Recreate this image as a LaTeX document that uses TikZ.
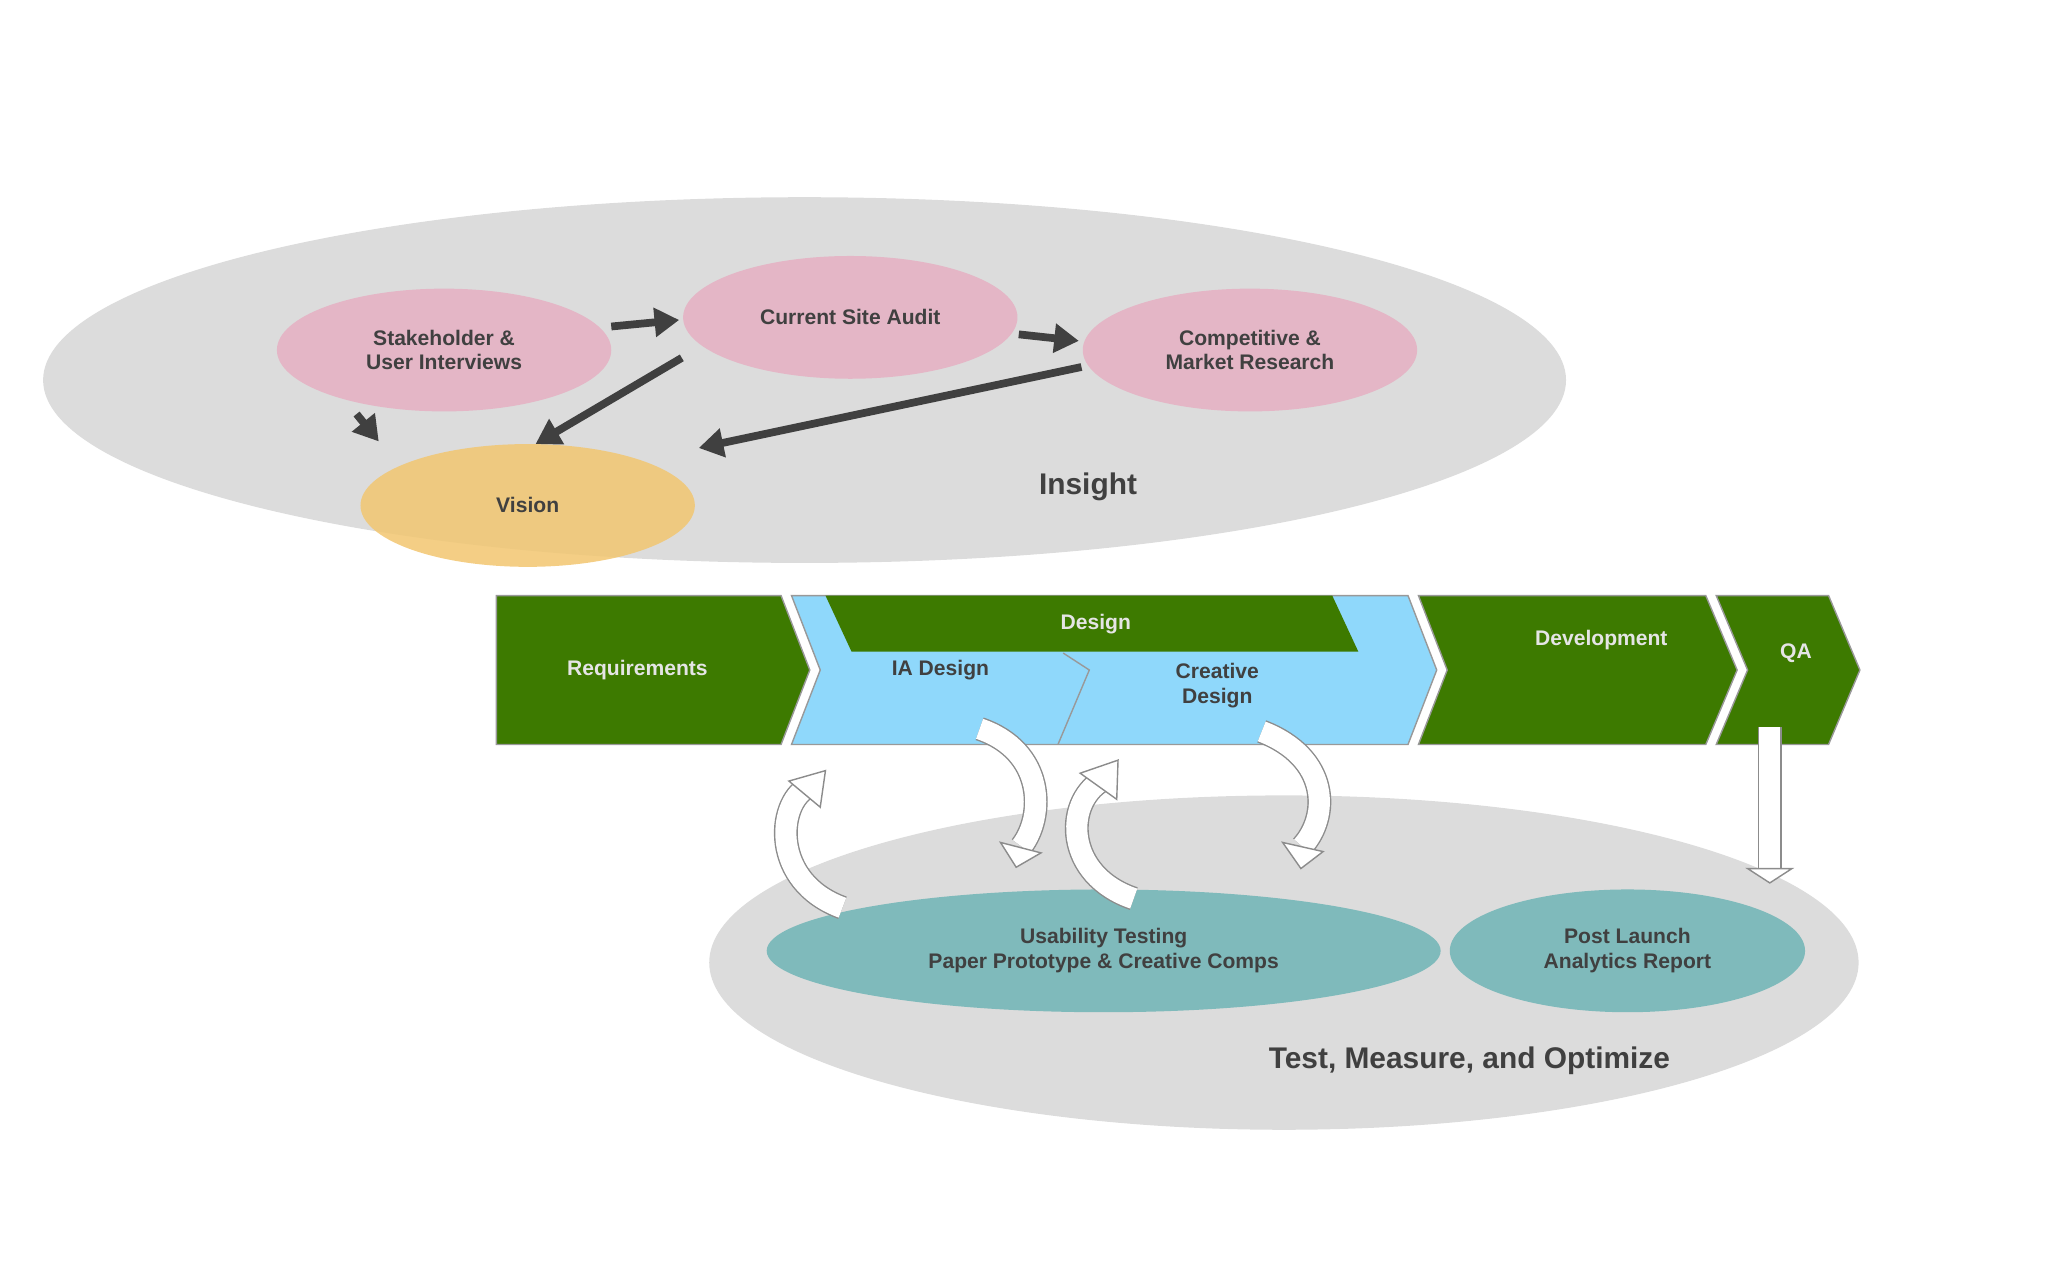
\documentclass[tikz,border=0pt]{standalone}
\usepackage{fontspec}
\setmainfont{Liberation Sans}
\usetikzlibrary{arrows.meta}
\definecolor{bggray}{HTML}{DCDCDC}
\definecolor{pinkfill}{HTML}{E4B6C6}
\definecolor{visionfill}{HTML}{F2C670}
\definecolor{stepgreen}{HTML}{3D7A00}
\definecolor{designblue}{HTML}{8FD8FB}
\definecolor{tealfill}{HTML}{7FBABB}
\definecolor{inkgray}{HTML}{404040}
\tikzset{
  phase/.style = {fill=bggray, draw=none},
  activity/.style = {ellipse-like, fill=pinkfill, align=center, text=inkgray, font=\fontsize{6}{7}\bfseries},
  lbl/.style = {align=center, text=inkgray, font=\fontsize{6}{7}\bfseries},
  steplbl/.style = {align=center, text=black!10, font=\fontsize{6}{7}\bfseries},
  biglbl/.style = {text=inkgray, font=\fontsize{8.5}{10}\bfseries},
  flow/.style = {line width=2.2pt, inkgray, -{Triangle[length=7pt,width=8pt]}},
  chevron/.style = {fill=stepgreen, draw=black!40, line width=0.4pt},
  loop/.style = {draw=black!45, double=white, double distance=6pt, line width=0.4pt},
  loophead/.style = {fill=white, draw=black!45, line width=0.4pt},
}
\newcommand{\loophead}[3]{% tip, direction angle
  \filldraw[loophead] (#1) ++(#2:0) -- ++(#2+150:#3) -- ++(#2-90:{#3*1.0}) -- cycle;}
\begin{document}
\begin{tikzpicture}[x=0.01306cm, y=-0.01306cm]
\useasboundingbox (0,0) rectangle (1568,980);

% insight phase
\fill[phase] (616,291) ellipse (583 and 140);
\fill[pinkfill] (340,268) ellipse (128 and 47);
\fill[pinkfill] (651,243) ellipse (128 and 47);
\fill[pinkfill] (957,268) ellipse (128 and 47);
\fill[visionfill, opacity=0.85] (404,387) ellipse (128 and 47);
\node (stake) [lbl] at (340,268) {Stakeholder \&\\User Interviews};
\node (audit) [lbl] at (651,243) {Current Site Audit};
\node (market) [lbl] at (957,268) {Competitive \&\\Market Research};
\node (vision) [lbl] at (404,387) {Vision};
\node (insight) [biglbl] at (833,373) {Insight};

\coordinate (stakeE) at (468,250);
\coordinate (auditW) at (520,245);
\coordinate (auditE) at (780,256);
\coordinate (marketW) at (826,261);
\coordinate (auditSW) at (522,274);
\coordinate (visionN) at (410,340);
\coordinate (marketSW) at (828,281);
\coordinate (visionE) at (535,343);
\coordinate (stakeS) at (273,317);
\coordinate (visionNW) at (290,338);
\draw [flow] (stakeE) -- (auditW);
\draw [flow] (auditE) -- (marketW);
\draw [flow] (auditSW) -- (visionN);
\draw [flow] (marketSW) -- (visionE);
\draw [flow] (stakeS) -- (visionNW);

% process steps
\draw[chevron] (380,456) -- (598,456) -- (620,513) -- (598,570) -- (380,570) -- cycle;
\draw[chevron, fill=designblue] (606,456) -- (1078,456) -- (1100,513) -- (1078,570) -- (606,570) -- (628,513) -- cycle;
\fill[stepgreen] (632,456) -- (1020,456) -- (1040,499) -- (652,499) -- cycle;
\draw[black!40] (814,500) -- (834,513) -- (810,570);
\draw[chevron] (1086,456) -- (1306,456) -- (1330,513) -- (1306,570) -- (1086,570) -- (1108,513) -- cycle;
\draw[chevron] (1314,456) -- (1400,456) -- (1424,513) -- (1400,570) -- (1314,570) -- (1338,513) -- cycle;
\node (req) [steplbl] at (488,513) {Requirements};
\node (design) [steplbl] at (839,478) {Design};
\node (ia) [lbl] at (720,513) {IA Design};
\node (creative) [lbl] at (932,525) {Creative\\Design};
\node (dev) [steplbl] at (1226,490) {Development};
\node (qa) [steplbl] at (1375,500) {QA};

% test phase
\fill[phase] (983,737) ellipse (440 and 128);
\fill[tealfill] (845,728) ellipse (258 and 47);
\fill[tealfill] (1246,728) ellipse (136 and 47);
\node (usability) [lbl] at (845,728) {Usability Testing\\Paper Prototype \& Creative Comps};
\node (post) [lbl] at (1246,728) {Post Launch\\Analytics Report};
\node (test) [biglbl] at (1125,812) {Test, Measure, and Optimize};

% feedback loops
\draw[loop] (645,695) .. controls (590,675) and (595,615) .. (618,603);
\filldraw[loophead] (604,598) -- (632,590) -- (628,618) -- cycle;
\draw[loop] (750,558) .. controls (800,575) and (800,625) .. (782,648);
\filldraw[loophead] (766,645) -- (797,653) -- (778,664) -- cycle;
\draw[loop] (868,688) .. controls (815,670) and (815,615) .. (843,598);
\filldraw[loophead] (827,592) -- (856,582) -- (855,612) -- cycle;
\draw[loop] (966,560) .. controls (1018,580) and (1018,625) .. (997,648);
\filldraw[loophead] (982,645) -- (1013,652) -- (996,665) -- cycle;
\draw[loop] (1355,557) -- (1355,665);
\filldraw[loophead] (1338,665) -- (1372,665) -- (1355,676) -- cycle;
\end{tikzpicture}
\end{document}
